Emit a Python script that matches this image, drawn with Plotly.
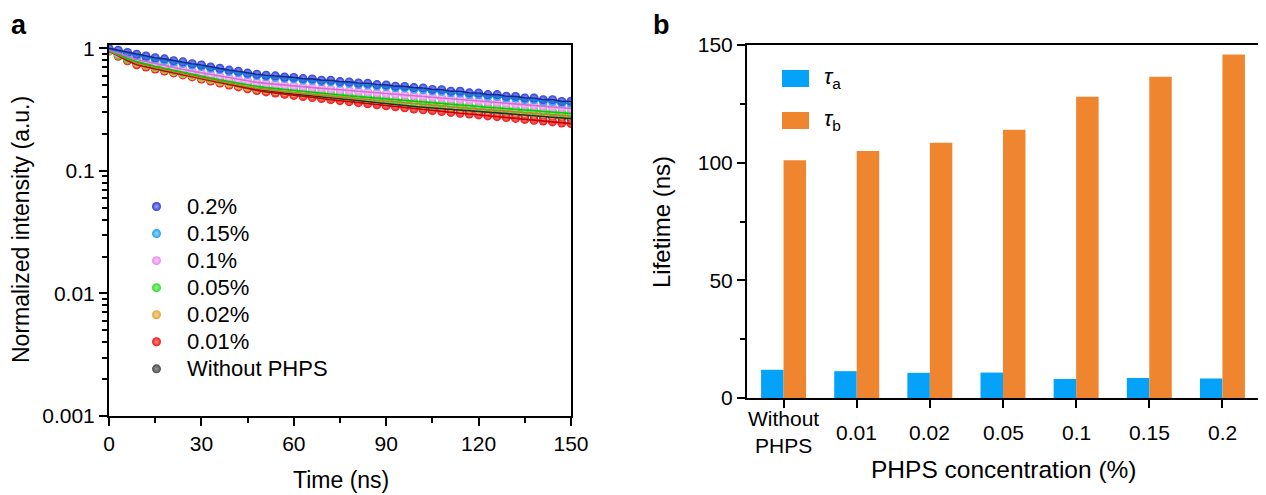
import plotly.graph_objects as go

# ---------------- data ----------------
time_ns = list(range(0, 151, 3))

series_names = ["Without PHPS", "0.01%", "0.02%", "0.05%", "0.1%", "0.15%", "0.2%"]

int_without = [0.96, 0.88, 0.815, 0.765, 0.730, 0.701, 0.674, 0.647, 0.622, 0.598, 0.575, 0.553,
               0.532, 0.513, 0.495, 0.478, 0.463, 0.451, 0.441, 0.432, 0.424, 0.416, 0.408, 0.401,
               0.394, 0.387, 0.380, 0.373, 0.366, 0.360, 0.353, 0.347, 0.341, 0.335, 0.330, 0.326,
               0.322, 0.317, 0.313, 0.309, 0.305, 0.301, 0.297, 0.293, 0.289, 0.285, 0.282, 0.278,
               0.274, 0.271, 0.267]
int_001 = [0.95, 0.86, 0.79, 0.735, 0.703, 0.678, 0.653, 0.630, 0.607, 0.584, 0.562, 0.540,
           0.520, 0.501, 0.484, 0.467, 0.453, 0.441, 0.431, 0.422, 0.413, 0.404, 0.396, 0.389,
           0.381, 0.374, 0.367, 0.360, 0.353, 0.346, 0.340, 0.333, 0.327, 0.320, 0.315, 0.310,
           0.305, 0.300, 0.295, 0.291, 0.286, 0.281, 0.277, 0.272, 0.268, 0.263, 0.259, 0.255,
           0.251, 0.246, 0.243]
int_002 = [0.95, 0.88, 0.815, 0.76, 0.727, 0.698, 0.671, 0.645, 0.620, 0.598, 0.576, 0.556,
           0.536, 0.518, 0.501, 0.485, 0.471, 0.460, 0.451, 0.443, 0.435, 0.427, 0.421, 0.414,
           0.407, 0.401, 0.394, 0.388, 0.382, 0.376, 0.370, 0.364, 0.358, 0.352, 0.347, 0.343,
           0.338, 0.334, 0.329, 0.325, 0.320, 0.316, 0.312, 0.308, 0.304, 0.299, 0.295, 0.292,
           0.288, 0.284, 0.280]
int_005 = [0.96, 0.885, 0.826, 0.779, 0.742, 0.713, 0.687, 0.661, 0.637, 0.615, 0.593, 0.573,
           0.553, 0.535, 0.518, 0.502, 0.489, 0.478, 0.469, 0.460, 0.452, 0.444, 0.437, 0.430,
           0.423, 0.416, 0.409, 0.403, 0.397, 0.390, 0.384, 0.378, 0.372, 0.366, 0.361, 0.357,
           0.352, 0.348, 0.343, 0.339, 0.334, 0.330, 0.326, 0.322, 0.318, 0.313, 0.309, 0.306,
           0.302, 0.298, 0.294]
int_01 = [0.97, 0.91, 0.86, 0.81, 0.780, 0.751, 0.724, 0.697, 0.672, 0.651, 0.631, 0.611,
          0.592, 0.574, 0.557, 0.541, 0.527, 0.517, 0.508, 0.500, 0.493, 0.485, 0.478, 0.471,
          0.465, 0.458, 0.452, 0.446, 0.440, 0.433, 0.427, 0.421, 0.416, 0.410, 0.404, 0.398,
          0.393, 0.387, 0.382, 0.377, 0.372, 0.366, 0.361, 0.356, 0.351, 0.346, 0.342, 0.337,
          0.332, 0.328, 0.323]
int_015 = [0.99, 0.95, 0.905, 0.872, 0.845, 0.816, 0.797, 0.772, 0.755, 0.729, 0.712, 0.688,
           0.671, 0.648, 0.633, 0.613, 0.599, 0.588, 0.580, 0.569, 0.564, 0.551, 0.548, 0.536,
           0.533, 0.521, 0.518, 0.507, 0.503, 0.492, 0.489, 0.477, 0.475, 0.464, 0.460, 0.449,
           0.446, 0.434, 0.432, 0.420, 0.418, 0.406, 0.405, 0.393, 0.392, 0.381, 0.380, 0.368,
           0.368, 0.357, 0.356]
int_02 = [1.00, 0.965, 0.925, 0.895, 0.866, 0.838, 0.820, 0.793, 0.776, 0.748, 0.731, 0.705,
          0.688, 0.664, 0.649, 0.628, 0.614, 0.603, 0.596, 0.583, 0.579, 0.566, 0.563, 0.550,
          0.548, 0.535, 0.532, 0.521, 0.518, 0.506, 0.503, 0.491, 0.489, 0.478, 0.475, 0.462,
          0.460, 0.447, 0.446, 0.433, 0.432, 0.419, 0.419, 0.406, 0.405, 0.394, 0.393, 0.381,
          0.381, 0.369, 0.370]

series_values = [int_without, int_001, int_002, int_005, int_01, int_015, int_02]

x_ticks_time = [0, 30, 60, 90, 120, 150]
y_tick_vals = [0.001, 0.01, 0.1, 1]
y_tick_text = ["0.001", "0.01", "0.1", "1"]

categories = ["Without PHPS", "0.01", "0.02", "0.05", "0.1", "0.15", "0.2"]
category_labels = ["Without<br>PHPS", "0.01", "0.02", "0.05", "0.1", "0.15", "0.2"]
tau_a = [12.0, 11.4, 10.7, 10.8, 8.1, 8.5, 8.3]
tau_b = [101.0, 105.0, 108.5, 114.0, 128.0, 136.5, 146.0]

# ---------------- styles ----------------
marker_colors = ["#4a4a4a", "#ee1616", "#e3a53c", "#22e022", "#ee86ee", "#1ea2f0", "#2c3ed8"]
center_colors = ["#9a9a9a", "#ff8a8a", "#f5d49a", "#a6f5a6", "#fbd0fb", "#9ad8ff", "#a0aaf6"]
line_colors = ["#2a2a2a", "#c80000", "#c08222", "#10c410", "#d070d0", "#1080d0", "#1a2896"]

W, H = 1266, 495
OFF = 8  # page body margin offset of the plot div

def px(x):
    return (x - OFF) / W
def py(y):
    return 1 - (y - OFF) / H

FONT = "Arial, 'Liberation Sans', sans-serif"

fig = go.Figure()

for name, vals, mc, cc in zip(series_names, series_values, marker_colors, center_colors):
    fig.add_trace(go.Scatter(
        x=time_ns, y=vals, mode="markers",
        name='<span style="font-size:22px">' + name + "</span>",
        marker=dict(size=9, color=mc, line=dict(width=0),
                    gradient=dict(type="radial", color=cc)),
        xaxis="x", yaxis="y", legend="legend",
    ))
for name, vals, lc in zip(series_names, series_values, line_colors):
    fig.add_trace(go.Scatter(
        x=time_ns, y=vals, mode="lines", name=name + " fit", showlegend=False,
        line=dict(color=lc, width=1.6), xaxis="x", yaxis="y", hoverinfo="skip",
    ))

fig.add_trace(go.Bar(x=categories, y=tau_a, name="τa", marker=dict(color="#05a2fa", line=dict(width=0)),
                     xaxis="x2", yaxis="y2", showlegend=False))
fig.add_trace(go.Bar(x=categories, y=tau_b, name="τb", marker=dict(color="#ef852e", line=dict(width=0)),
                     xaxis="x2", yaxis="y2", showlegend=False))

axis_common = dict(showgrid=False, zeroline=False, showline=True, linecolor="black", linewidth=2,
                   mirror=True, ticks="outside", tickcolor="black", tickwidth=2, automargin=False,
                   tickfont=dict(family=FONT, size=21, color="black"))

minor_log = [m * 10 ** e for e in (-3, -2, -1) for m in range(2, 10)]

fig.update_layout(
    width=W, height=H, autosize=False,
    margin=dict(l=0, r=0, t=0, b=0, pad=0, autoexpand=False),
    paper_bgcolor="white", plot_bgcolor="white",
    font=dict(family=FONT, size=20, color="black"),
    barmode="group", bargap=0.385, bargroupgap=0,
    xaxis=dict(domain=[px(109), px(571)], range=[0, 150], anchor="y",
               tickvals=x_ticks_time, ticklen=8,
               minor=dict(ticks="outside", tickvals=[15, 45, 75, 105, 135], ticklen=5,
                          tickwidth=2, tickcolor="black"),
               **axis_common),
    yaxis=dict(domain=[py(416), py(45)], type="log", range=[-3, 0.027], anchor="x",
               tickvals=y_tick_vals, ticktext=y_tick_text, ticklen=8,
               minor=dict(ticks="outside", tickvals=minor_log, ticklen=5,
                          tickwidth=2, tickcolor="black"),
               **axis_common),
    xaxis2=dict(domain=[px(747), px(1259)], range=[-0.5, 6.5], anchor="y2", type="category",
                showticklabels=False, ticklen=8, **axis_common),
    yaxis2=dict(domain=[py(398), py(45)], range=[0, 150], anchor="x2",
                tickvals=[0, 50, 100, 150], ticklen=8,
                minor=dict(ticks="outside", tickvals=[25, 75, 125], ticklen=5,
                           tickwidth=2, tickcolor="black"),
                **axis_common),
    legend=dict(x=px(126), y=py(188), xanchor="left", yanchor="top",
                traceorder="reversed", bgcolor="rgba(0,0,0,0)",
                font=dict(family=FONT, size=18.5, color="black"), itemwidth=51),
    showlegend=True,
)

annotations = [
    dict(text="<b>a</b>", x=px(9), y=1.0, xanchor="left", yanchor="top",
         font=dict(size=27)),
    dict(text="<b>b</b>", x=px(651), y=1.0, xanchor="left", yanchor="top",
         font=dict(size=27)),
    dict(text="Normalized intensity (a.u.)", x=px(21), y=py(230), textangle=-90,
         xanchor="center", yanchor="middle", font=dict(size=23)),
    dict(text="Time (ns)", x=px(341), y=py(480), xanchor="center", yanchor="middle",
         font=dict(size=23)),
    dict(text="Lifetime (ns)", x=px(661), y=py(222), textangle=-90,
         xanchor="center", yanchor="middle", font=dict(size=24)),
    dict(text="PHPS concentration (%)", x=px(1004), y=py(469), xanchor="center",
         yanchor="middle", font=dict(size=24.5)),
    dict(text="<i>τ</i><sub>a</sub>", x=px(822), y=py(78), xanchor="left", yanchor="middle",
         font=dict(size=22)),
    dict(text="<i>τ</i><sub>b</sub>", x=px(822), y=py(120), xanchor="left", yanchor="middle",
         font=dict(size=22)),
]
for idx, lab in enumerate(category_labels):
    annotations.append(dict(text=lab, x=idx, xref="x2", y=py(432), yref="paper",
                            xanchor="center", yanchor="middle", showarrow=False,
                            font=dict(family=FONT, size=21, color="black")))
for a in annotations:
    a.setdefault("xref", "paper")
    a.setdefault("yref", "paper")
    a.setdefault("showarrow", False)
    a.setdefault("font", {})
    a["font"].setdefault("family", FONT)
    a["font"].setdefault("color", "black")
fig.update_layout(annotations=annotations)

fig.update_layout(shapes=[
    dict(type="rect", xref="paper", yref="paper", x0=px(782), x1=px(809), y0=py(87), y1=py(70),
         fillcolor="#05a2fa", line=dict(width=0)),
    dict(type="rect", xref="paper", yref="paper", x0=px(782), x1=px(809), y0=py(129), y1=py(112),
         fillcolor="#ef852e", line=dict(width=0)),
])

fig.write_html("out.html")
